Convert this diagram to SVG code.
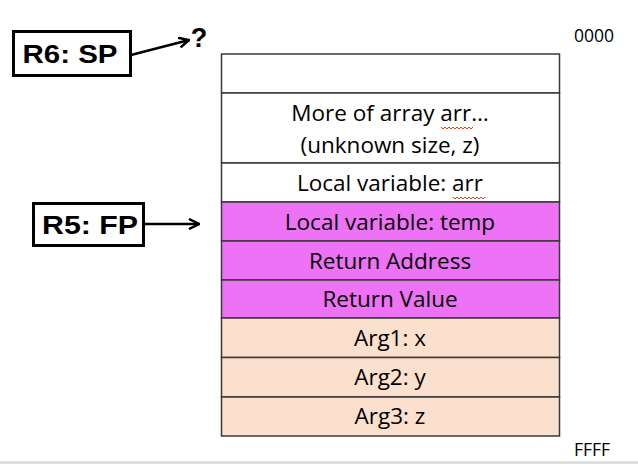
<svg xmlns="http://www.w3.org/2000/svg" width="638" height="464" viewBox="0 0 638 464">
<style>
.cell{stroke:#3a3a3a;stroke-width:1.5}
.st{font-family:"Open Sans","Liberation Sans",sans-serif;font-size:22.5px;fill:#000;text-anchor:middle;dominant-baseline:central}
.reg{font-family:"Liberation Sans",Arial,sans-serif;font-weight:bold;font-size:25px;fill:#000;text-anchor:middle;dominant-baseline:central}
.rbox{fill:#fff;stroke:#000;stroke-width:3}
.addr{font-family:"Open Sans","Liberation Sans",sans-serif;font-size:17.5px;fill:#000}
.sq{fill:none;stroke:#e8382c;stroke-width:1}
.conn{stroke:#000;stroke-width:2.5;fill:none}
</style>
<defs>
<marker id="ah" viewBox="0 0 12 12" refX="11" refY="6" markerWidth="12" markerHeight="12" orient="auto" markerUnits="userSpaceOnUse">
<path d="M1,1 L11,6 L1,11" fill="none" stroke="#000" stroke-width="2.5"/>
</marker>
</defs>
<rect x="0" y="0" width="638" height="464" fill="#fff"/>
<rect x="0" y="461" width="638" height="3" fill="#dedede"/>
<g id="stack">
<g id="row0"><rect class="cell" x="221.5" y="54" width="338" height="39" fill="#fff"/></g>
<g id="row1"><rect class="cell" x="221.5" y="93" width="338" height="70" fill="#fff"/>
<text class="st" x="390" y="112">More of array arr…</text>
<text class="st" x="390" y="144">(unknown size, z)</text>
<path class="sq" d="M441,127 l2,2 l2,-2 l2,2 l2,-2 l2,2 l2,-2 l2,2 l2,-2 l2,2 l2,-2 l2,2 l2,-2 l2,2 l2,-2 l2,2 l2,-2"/></g>
<g id="row2"><rect class="cell" x="221.5" y="163" width="338" height="39" fill="#fff"/>
<text class="st" x="390" y="182">Local variable: arr</text>
<path class="sq" d="M453,197 l2,2 l2,-2 l2,2 l2,-2 l2,2 l2,-2 l2,2 l2,-2 l2,2 l2,-2 l2,2 l2,-2 l2,2 l2,-2 l2,2 l2,-2"/></g>
<g id="row3"><rect class="cell" x="221.5" y="202" width="338" height="39" fill="#ee72f5"/>
<text class="st" x="390" y="221">Local variable: temp</text></g>
<g id="row4"><rect class="cell" x="221.5" y="241" width="338" height="39" fill="#ee72f5"/>
<text class="st" x="390" y="260">Return Address</text></g>
<g id="row5"><rect class="cell" x="221.5" y="280" width="338" height="38" fill="#ee72f5"/>
<text class="st" x="390" y="298">Return Value</text></g>
<g id="row6"><rect class="cell" x="221.5" y="318" width="338" height="39.5" fill="#fbe0ce"/>
<text class="st" x="390" y="337">Arg1: x</text></g>
<g id="row7"><rect class="cell" x="221.5" y="357.5" width="338" height="39.5" fill="#fbe0ce"/>
<text class="st" x="390" y="376">Arg2: y</text></g>
<g id="row8"><rect class="cell" x="221.5" y="397" width="338" height="39" fill="#fbe0ce"/>
<text class="st" x="390" y="415">Arg3: z</text></g>
</g>
<g id="sp">
<rect class="rbox" x="13.5" y="31.5" width="117" height="44"/>
<text class="reg" x="70" y="54" textLength="95" lengthAdjust="spacingAndGlyphs">R6: SP</text>
</g>
<g id="fp">
<rect class="rbox" x="33.5" y="203.5" width="110" height="42"/>
<text class="reg" x="90" y="225" textLength="96" lengthAdjust="spacingAndGlyphs">R5: FP</text>
</g>
<g id="q"><text class="reg" x="199" y="38" style="font-size:27px">?</text></g>
<g id="connectors">
<line class="conn" x1="131" y1="55" x2="189" y2="40" marker-end="url(#ah)"/>
<line class="conn" x1="145" y1="224" x2="199" y2="224" marker-end="url(#ah)"/>
</g>
<text class="addr" x="574" y="42">0000</text>
<text class="addr" x="574" y="456">FFFF</text>
</svg>
